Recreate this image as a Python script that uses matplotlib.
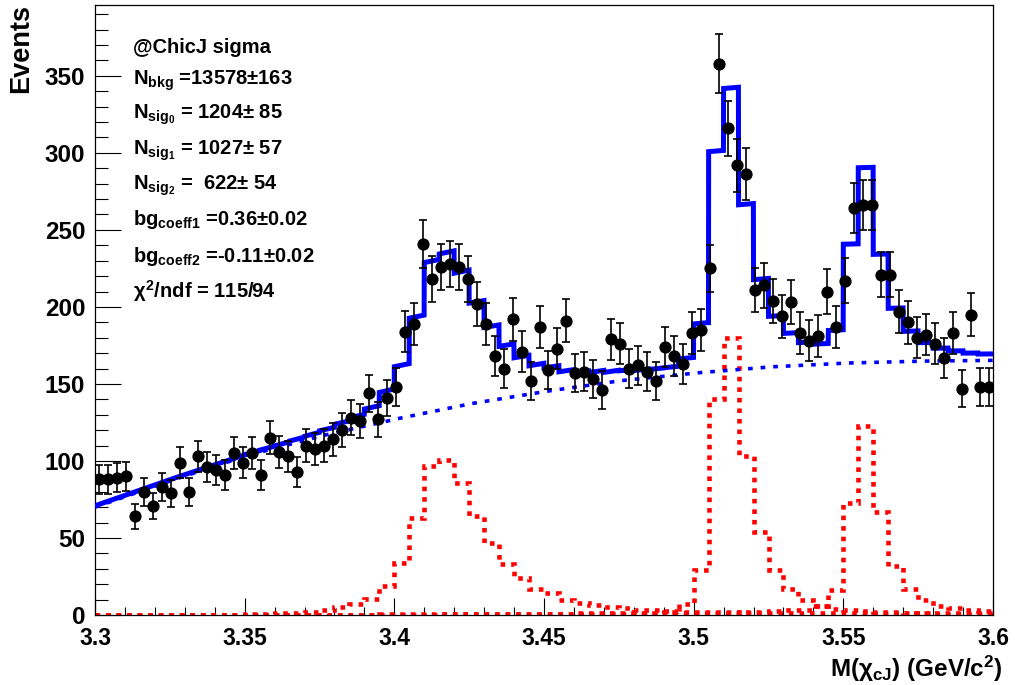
import numpy as np
import matplotlib
matplotlib.use('Agg')
import matplotlib.pyplot as plt
from matplotlib.ticker import MultipleLocator, FuncFormatter

plt.rcParams['font.family'] = ['Liberation Sans', 'DejaVu Sans']
plt.rcParams['font.weight'] = 'bold'
plt.rcParams['mathtext.fontset'] = 'custom'
plt.rcParams['mathtext.rm'] = 'Liberation Sans:bold'
plt.rcParams['mathtext.it'] = 'Liberation Sans:bold'
plt.rcParams['mathtext.bf'] = 'Liberation Sans:bold'

# ---------------- data ----------------
x_lo, x_hi = 3.3, 3.6
n_data_bins = 100
counts = [88, 88, 89, 90, 64, 80, 71, 83, 79, 99,
          80, 103, 96, 94, 91, 105, 99, 105, 91, 115,
          106, 103, 93, 110, 108, 110, 114, 120, 128, 126,
          144, 127, 141, 148, 184, 189, 241, 218, 226, 228,
          226, 218, 202, 189, 168, 160, 192, 171, 152, 187,
          159, 173, 191, 157, 158, 153, 146, 179, 176, 160,
          162, 158, 152, 174, 168, 163, 183, 185, 225, 358,
          316, 292, 286, 211, 214, 204, 194, 203, 183, 178,
          181, 210, 187, 217, 264, 266, 266, 221, 221, 197,
          190, 180, 182, 176, 167, 183, 147, 195, 148, 148]

# signal templates (60 bins of 0.005)
sig_bin_width = 0.005
sig0 = [0.3, 0.3, 0.3, 0.3, 0.3, 0.3, 0.3, 0.3, 0.3, 0.3,
        0.5, 0.8, 1.0, 1.5, 2.0, 3.0, 5.0, 7.0, 10.5, 19.0,
        33.5, 63.0, 97.0, 100.5, 86.0, 64.5, 47.0, 33.0, 24.0, 17.0,
        14.0, 10.0, 7.5, 6.5, 5.0, 4.5, 3.5, 3.0, 2.5, 2.2,
        2.0, 1.8, 1.7, 1.6, 1.5, 1.4, 1.3, 1.3, 1.3, 1.2,
        1.2, 1.1, 1.1, 1.0, 1.0, 1.0, 0.9, 0.9, 0.8, 0.8]
sig1 = [0.3, 0.3, 0.3, 0.3, 0.3, 0.3, 0.3, 0.3, 0.3, 0.3,
        0.3, 0.3, 0.3, 0.3, 0.3, 0.3, 0.3, 0.3, 0.3, 0.4,
        0.4, 0.4, 0.5, 0.5, 0.5, 0.6, 0.6, 0.7, 0.7, 0.8,
        0.8, 0.9, 1.0, 1.0, 1.1, 1.2, 1.3, 1.5, 2.0, 7.0,
        29.0, 140.0, 180.0, 103.5, 54.0, 29.0, 17.0, 10.0, 6.0, 4.0,
        3.0, 2.5, 2.0, 1.8, 1.6, 1.5, 1.4, 1.2, 1.1, 1.0]
sig2 = [0.3, 0.3, 0.3, 0.3, 0.3, 0.3, 0.3, 0.3, 0.3, 0.3,
        0.3, 0.3, 0.3, 0.3, 0.3, 0.3, 0.3, 0.3, 0.3, 0.3,
        0.3, 0.3, 0.3, 0.4, 0.4, 0.4, 0.5, 0.5, 0.5, 0.6,
        0.6, 0.6, 0.7, 0.7, 0.8, 0.8, 0.9, 0.9, 1.0, 1.0,
        1.0, 1.2, 1.5, 1.8, 2.0, 2.5, 3.0, 3.5, 6.0, 16.5,
        73.0, 123.0, 67.0, 32.0, 17.0, 9.5, 6.0, 4.3, 3.0, 2.4]

# background shape read at nodes
bkg_x = [3.300, 3.325, 3.350, 3.375, 3.400, 3.425, 3.450,
         3.475, 3.500, 3.525, 3.550, 3.575, 3.600]
bkg_y = [70.0, 87.0, 103.0, 116.0, 127.0, 137.0, 145.0,
         152.0, 157.0, 161.0, 163.5, 164.8, 165.3]

fit_text = ['@ChicJ sigma',
            r'N$_{bkg}$ =13578±163',
            r'N$_{sig_{0}}$ = 1204± 85',
            r'N$_{sig_{1}}$ = 1027± 57',
            r'N$_{sig_{2}}$ =  622± 54',
            r'bg$_{coeff1}$ =0.36±0.02',
            r'bg$_{coeff2}$ =-0.11±0.02',
            r'$\chi^{2}$/ndf = 115/94']

# ---------------- figure ----------------
W, H = 1015, 685
fig = plt.figure(figsize=(W / 100, H / 100), dpi=100)
ax = fig.add_axes([95 / W, 70 / H, 898 / W, 610 / H])

edges_d = np.linspace(x_lo, x_hi, n_data_bins + 1)
centers = 0.5 * (edges_d[:-1] + edges_d[1:])
cnt = np.array(counts, dtype=float)

n_sig = len(sig0)
edges_s = x_lo + sig_bin_width * np.arange(n_sig + 1)

xf = np.linspace(x_lo, x_hi, 6001)
idx = np.clip(np.floor((xf - x_lo) / sig_bin_width + 1e-7).astype(int), 0, n_sig - 1)
bkg_f = np.interp(xf, bkg_x, bkg_y)
total = bkg_f + np.array(sig0)[idx] + np.array(sig1)[idx] + np.array(sig2)[idx]

red_style = dict(color=(1, 0, 0), lw=3.3, linestyle=(0, (1.0, 1.3)), baseline=None, zorder=2)
for s in (sig0, sig1, sig2):
    ax.stairs(s, edges_s, **red_style)

ax.plot(xf, bkg_f, color=(0, 0, 1), lw=2.6, linestyle=(0, (1.3, 2.2)), zorder=3)
ax.plot(xf, total, color=(0, 0, 1), lw=3.6, zorder=4, solid_joinstyle='miter')

ax.errorbar(centers, cnt, yerr=np.sqrt(cnt), fmt='o', color='black', ms=7.8,
            capsize=3, elinewidth=1.2, capthick=1.2, zorder=5)

ax.set_xlim(x_lo, x_hi)
ax.set_ylim(0, 396)

ax.xaxis.set_major_locator(MultipleLocator(0.05))
ax.xaxis.set_minor_locator(MultipleLocator(0.01))
ax.yaxis.set_major_locator(MultipleLocator(50))
ax.yaxis.set_minor_locator(MultipleLocator(10))
ax.xaxis.set_major_formatter(FuncFormatter(lambda v, p: '%g' % round(v, 3)))
ax.yaxis.set_major_formatter(FuncFormatter(lambda v, p: '%d' % round(v)))

ax.tick_params(axis='x', which='major', direction='in', length=12, width=0.8,
               labelsize=16.5, pad=8.5, top=False)
ax.tick_params(axis='x', which='minor', direction='in', length=6, width=0.8, top=False)
ax.tick_params(axis='y', which='major', direction='in', length=19, width=0.8,
               labelsize=17.5, pad=7, right=False)
ax.tick_params(axis='y', which='minor', direction='in', length=9.5, width=0.8, right=False)
for sp in ax.spines.values():
    sp.set_linewidth(0.9)

for i, t in enumerate(fit_text):
    yb = [53, 85, 119, 155, 190, 225, 262, 298][i]
    fig.text(133 / W, 1 - yb / H, t, fontsize=14.5, fontweight='bold',
             ha='left', va='baseline')

fig.text(21 / W, 1 - 4 / H, 'Events', rotation=90, fontsize=19.5, fontweight='bold',
         ha='center', va='top')
fig.text(1003 / W, 1 - 677 / H, r'M($\chi_{cJ}$) (GeV/c$^{2}$)', fontsize=17.5,
         fontweight='bold', ha='right', va='baseline')

fig.savefig('out.png', dpi=100)
